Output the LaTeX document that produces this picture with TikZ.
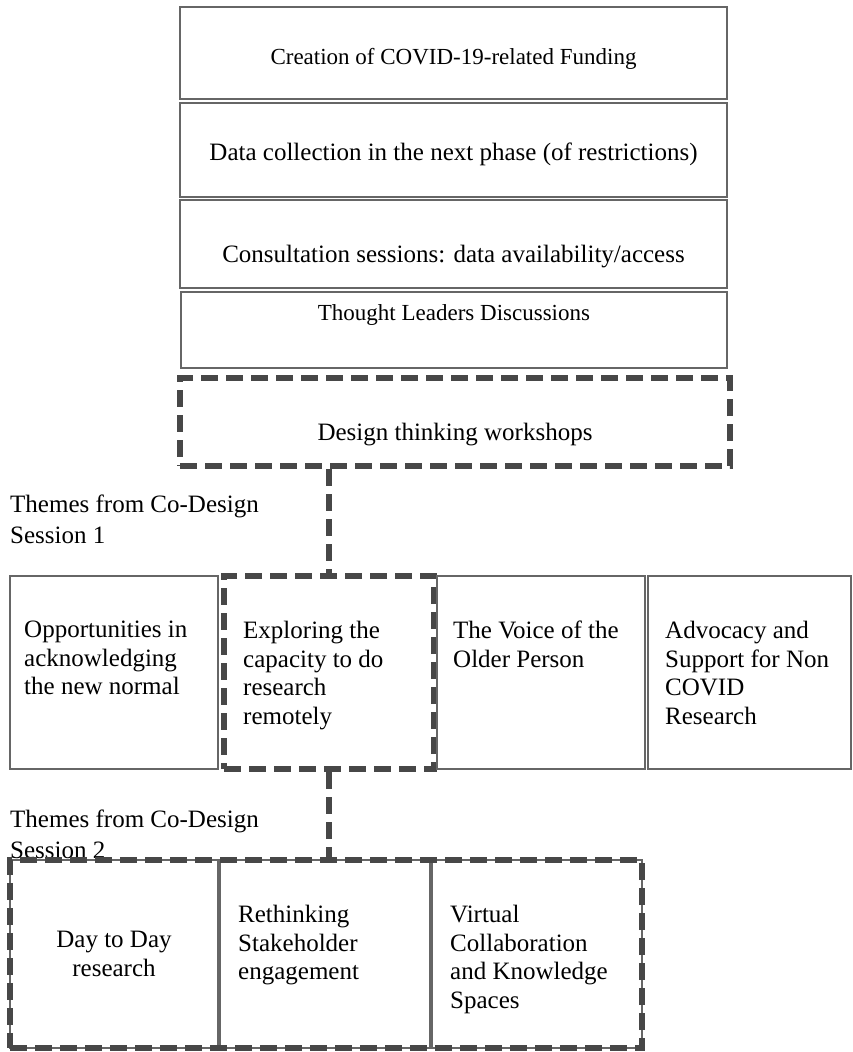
\documentclass[tikz,border=0pt]{standalone}
\usepackage{fontspec}
\setmainfont{Liberation Serif}
\usetikzlibrary{positioning}

\begin{document}
\begin{tikzpicture}[x=1pt, y=-1pt,
	solidbox/.style={draw=black!60, line width=1.2pt, inner sep=0pt},
	dashbox/.style={draw=black!72, line width=6.5pt, dash pattern=on 17pt off 8pt, inner sep=0pt},
	link/.style={draw=black!72, line width=6.5pt, dash pattern=on 17pt off 8pt},
	txt/.style={inner sep=0pt, font=\fontsize{25}{28.5}\selectfont, align=left},
	theme/.style={inner sep=0pt, font=\fontsize{25}{31}\selectfont, align=left}]
	\useasboundingbox (0,0) rectangle (852,1052);
	
	% stacked boxes at the top
	\node[solidbox, minimum width=547pt, minimum height=92pt] (fund) at (453.5,53) {};
	\node[solidbox, minimum width=547pt, minimum height=94pt] (datacol) at (453.5,150) {};
	\node[solidbox, minimum width=547pt, minimum height=88pt] (consult) at (453.5,244) {};
	\node[solidbox, minimum width=546pt, minimum height=76pt] (leaders) at (454,330) {};
	\node[dashbox, minimum width=550pt, minimum height=88pt] (dtw) at (455,422) {};
	
	\node[inner sep=0pt, anchor=base, font=\fontsize{23}{27}\selectfont] (tfund) at (453.5,64) {Creation of COVID-19-related Funding};
	\node[inner sep=0pt, anchor=base, font=\fontsize{25}{29}\selectfont] (tdatacol) at (453.5,160) {Data collection in the next phase (of restrictions)};
	\node[inner sep=0pt, anchor=base, font=\fontsize{25}{29}\selectfont] (tconsult) at (453.5,262) {Consultation sessions: data availability/access};
	\node[inner sep=0pt, anchor=base, font=\fontsize{23}{27}\selectfont] (tleaders) at (454,320) {Thought Leaders Discussions};
	\node[inner sep=0pt, anchor=base, font=\fontsize{25}{29}\selectfont] (tdtw) at (455,440) {Design thinking workshops};
	
	% session 1
	\node[theme, anchor=north west] (theme1) at (10,495) {Themes from Co-Design\\Session 1};
	\node[solidbox, minimum width=208pt, minimum height=193pt] (normal) at (114,672.5) {};
	\node[dashbox, minimum width=210pt, minimum height=193pt] (remote) at (329,672.5) {};
	\node[solidbox, minimum width=208pt, minimum height=193pt] (voice) at (541,672.5) {};
	\node[solidbox, minimum width=203pt, minimum height=193pt] (advocacy) at (749.5,672.5) {};
	
	\node[txt, anchor=north west] (tnormal) at (24,621) {Opportunities in\\acknowledging\\the new normal};
	\node[txt, anchor=north west] (tremote) at (243,621) {Exploring the\\capacity to do\\research\\remotely};
	\node[txt, anchor=north west] (tvoice) at (453,621) {The Voice of the\\Older Person};
	\node[txt, anchor=north west] (tadvocacy) at (665,621) {Advocacy and\\Support for Non\\COVID\\Research};
	
	% session 2
	\node[theme, anchor=north west] (theme2) at (10,810) {Themes from Co-Design\\Session 2};
	\node[solidbox, minimum width=208pt, minimum height=188pt] (daily) at (114,954) {};
	\node[solidbox, minimum width=210pt, minimum height=188pt] (stake) at (325,954) {};
	\node[solidbox, minimum width=210pt, minimum height=188pt] (virtual) at (537,954) {};
	\node[dashbox, minimum width=632pt, minimum height=188pt] (session2) at (326,954) {};
	
	\node[txt, align=center] (tdaily) at (114,954) {Day to Day\\research};
	\node[txt, anchor=north west] (tstake) at (238,905) {Rethinking\\Stakeholder\\engagement};
	\node[txt, anchor=north west] (tvirtual) at (450,905) {Virtual\\Collaboration\\and Knowledge\\Spaces};
	
	\draw[link] (dtw.south -| remote.north) -- (remote.north);
	\draw[link] (remote.south) -- (remote.south |- session2.north);
\end{tikzpicture}
\end{document}
